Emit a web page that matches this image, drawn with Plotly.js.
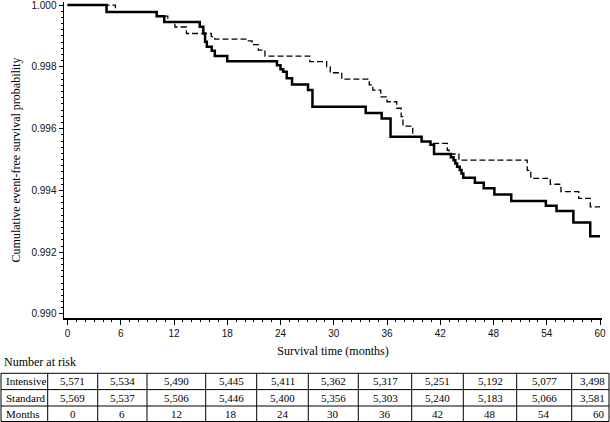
<!DOCTYPE html>
<html>
<head>
<meta charset="utf-8">
<script src="https://cdn.plot.ly/plotly-3.0.1.min.js"></script>
<style>html,body{margin:0;padding:0;background:#fff;}#chart{width:610px;height:422px;}</style>
</head>
<body>
<div id="chart"></div>
<script>
// Kaplan-Meier step data
var intensiveTime = [0, 4.4, 10.05, 10.9, 14.9, 15.3, 15.5, 15.7, 16.25, 16.6, 18.0, 23.6, 24.0, 24.3, 24.7, 25.3, 27.1, 27.6, 33.6, 35.4, 36.4, 39.9, 40.9, 41.3, 43.2, 43.5, 43.7, 43.9, 44.2, 44.4, 44.6, 45.9, 46.9, 48.1, 50.0, 53.9, 55.1, 57.0, 58.9, 60];
var intensiveSurv = [1.0, 0.99978, 0.99964, 0.99945, 0.9993, 0.99908, 0.99881, 0.99865, 0.99852, 0.99835, 0.99818, 0.99805, 0.99792, 0.99784, 0.99763, 0.99743, 0.99725, 0.99671, 0.99651, 0.99633, 0.99574, 0.99558, 0.99548, 0.99518, 0.99507, 0.99498, 0.99487, 0.99477, 0.99466, 0.99455, 0.99441, 0.99425, 0.99407, 0.99387, 0.99366, 0.9935, 0.99333, 0.99296, 0.99252, 0.99252];

var standardTime = [0, 5.4, 10.1, 11.3, 12.1, 13.4, 16.2, 16.6, 20.3, 20.8, 21.5, 22.25, 27.3, 29.2, 29.6, 30.9, 34.0, 34.4, 35.3, 36.0, 37.1, 37.6, 37.8, 38.9, 39.9, 40.9, 42.8, 43.0, 44.1, 51.8, 52.2, 54.4, 55.6, 57.6, 58.9, 60];
var standardSurv = [1.0, 0.99978, 0.99964, 0.99945, 0.99929, 0.99908, 0.99898, 0.9989, 0.99884, 0.99872, 0.99854, 0.99835, 0.99817, 0.998, 0.99781, 0.9976, 0.99742, 0.99725, 0.99703, 0.99687, 0.99666, 0.99639, 0.99608, 0.99574, 0.99558, 0.99552, 0.9953, 0.99518, 0.99498, 0.99465, 0.99439, 0.9942, 0.99396, 0.99374, 0.99347, 0.99347];

// Number at risk table
var rowLabels = ["Intensive", "Standard", "Months"];
var riskMonths = [0, 6, 12, 18, 24, 30, 36, 42, 48, 54, 60];
var intensiveAtRisk = ["5,571", "5,534", "5,490", "5,445", "5,411", "5,362", "5,317", "5,251", "5,192", "5,077", "3,498"];
var standardAtRisk = ["5,569", "5,537", "5,506", "5,446", "5,400", "5,356", "5,303", "5,240", "5,183", "5,066", "3,581"];

var xTicks = [0, 6, 12, 18, 24, 30, 36, 42, 48, 54, 60];
var yTicks = [0.990, 0.992, 0.994, 0.996, 0.998, 1.000];

var serif = "Liberation Serif, Times New Roman, serif";
var sans = "Liberation Sans, Arial, sans-serif";

// ---- table geometry (pixels of the 610x422 page) ----
var W = 610, H = 422, ML = 1, MR = 1, MT = 2, MB = 0;
var PW = W - ML - MR, PH = H - MT - MB;
function px2x(px) { return (px - ML) / PW; }
function py2y(py) { return (H - MB - py) / PH; }
var colEdges = [1, 47.7, 97.7, 147, 205.7, 256.7, 308.3, 358.3, 411.7, 463.3, 516.7, 571.7, 609];
var rowEdges = [373.3, 389.6, 406, 421.5];

var shapes = [];
var lineStyle = {color: "#000", width: 1};
colEdges.forEach(function (cx) {
  shapes.push({type: "line", xref: "paper", yref: "paper", x0: px2x(cx), x1: px2x(cx), y0: py2y(rowEdges[0]), y1: py2y(rowEdges[rowEdges.length - 1]), line: lineStyle});
});
rowEdges.forEach(function (ry) {
  shapes.push({type: "line", xref: "paper", yref: "paper", x0: px2x(colEdges[0]), x1: px2x(colEdges[colEdges.length - 1]), y0: py2y(ry), y1: py2y(ry), line: lineStyle});
});

var annotations = [
  {
    text: "Number at risk", xref: "paper", yref: "paper",
    x: px2x(2), y: py2y(362), xanchor: "left", yanchor: "middle",
    showarrow: false, font: {family: serif, size: 12, color: "#000"}
  }
];
var tableRows = [intensiveAtRisk, standardAtRisk, riskMonths.map(String)];
tableRows.forEach(function (vals, r) {
  var yc = py2y((rowEdges[r] + rowEdges[r + 1]) / 2);
  annotations.push({
    text: rowLabels[r], xref: "paper", yref: "paper", x: px2x(colEdges[0] + 2.5), y: yc,
    xanchor: "left", yanchor: "middle", showarrow: false,
    font: {family: serif, size: 11, color: "#000"}
  });
  vals.forEach(function (v, c) {
    var last = (c === vals.length - 1);
    annotations.push({
      text: v, xref: "paper", yref: "paper",
      x: last ? px2x(colEdges[c + 2] - 2) : px2x((colEdges[c + 1] + colEdges[c + 2]) / 2),
      y: yc, xanchor: last ? "right" : "center", yanchor: "middle", showarrow: false,
      font: {family: serif, size: 11, color: "#000"}
    });
  });
});

var traces = [
  {
    type: "scatter", mode: "lines", x: standardTime, y: standardSurv,
    line: {shape: "hv", color: "#000", width: 1.3, dash: "6px,3px"},
    name: "Standard", hoverinfo: "x+y"
  },
  {
    type: "scatter", mode: "lines", x: intensiveTime, y: intensiveSurv,
    line: {shape: "hv", color: "#000", width: 2.5},
    name: "Intensive", hoverinfo: "x+y"
  }
];

var layout = {
  width: W, height: H,
  margin: {l: ML, r: MR, t: MT, b: MB, pad: 0},
  paper_bgcolor: "#fff", plot_bgcolor: "#fff",
  showlegend: false,
  xaxis: {
    domain: [px2x(64), px2x(602)],
    range: [-0.394, 60.225],
    tickvals: xTicks, ticktext: xTicks.map(String),
    ticks: "outside", ticklen: 5, tickwidth: 1, tickcolor: "#000",
    minor: {dtick: 1, ticks: "outside", ticklen: 2, tickcolor: "#000", tickwidth: 1},
    showgrid: false, zeroline: false,
    showline: true, linecolor: "#000", linewidth: 1.5,
    tickfont: {family: sans, size: 10, color: "#111"},
    ticklabeloverflow: "allow",
    automargin: false,
    title: {text: "Survival time (months)", font: {family: serif, size: 12, color: "#000"}, standoff: 9}
  },
  yaxis: {
    domain: [py2y(318), py2y(2)],
    range: [0.98987, 1.0001],
    tickvals: yTicks, tickformat: ".3f",
    ticks: "outside", ticklen: 4, tickwidth: 1, tickcolor: "#000",
    minor: {dtick: 0.0002, tick0: 0.99, ticks: "outside", ticklen: 2, tickcolor: "#000", tickwidth: 1},
    showgrid: false, zeroline: false,
    showline: true, linecolor: "#000", linewidth: 1.5,
    tickfont: {family: sans, size: 10, color: "#111"},
    ticklabeloverflow: "allow",
    automargin: false,
    title: {text: "Cumulative event-free survival probability", font: {family: serif, size: 12, color: "#000"}, standoff: 8}
  },
  shapes: shapes,
  annotations: annotations
};

Plotly.newPlot("chart", traces, layout, {staticPlot: true});
</script>
</body>
</html>
